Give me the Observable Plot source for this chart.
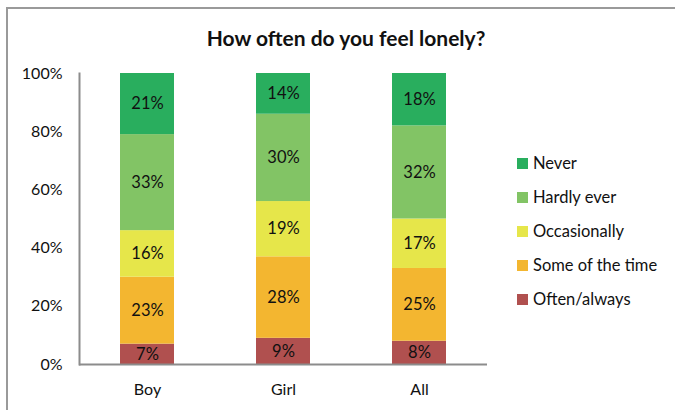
<!DOCTYPE html>
<html>
<head>
<meta charset="utf-8">
<script src="https://cdn.jsdelivr.net/npm/d3@7"></script>
<script src="https://cdn.jsdelivr.net/npm/@observablehq/plot@0.6"></script>
<style>
  html, body { margin: 0; padding: 0; background: #fff; overflow: hidden; }
  #wrap { position: relative; width: 675px; height: 410px; overflow: hidden; font-family: Lato, "Open Sans", sans-serif; color: #111; }
  #btop { position: absolute; left: 6px; top: 7px; width: 669px; height: 2px; background: #9a9a9a; }
  #bleft { position: absolute; left: 6px; top: 7px; width: 2px; height: 403px; background: #9a9a9a; }
  #title { position: absolute; top: 25px; left: 346px; transform: translateX(-50%); font-weight: bold; font-size: 21px; white-space: nowrap; }
  #legend { position: absolute; left: 517px; top: 146px; font-size: 16.5px; }
  .item { display: flex; align-items: center; height: 34px; margin: 0; }
  .sw { width: 11px; height: 11px; margin-right: 5px; }
  svg { position: absolute; left: 0; top: 0; }
</style>
</head>
<body>
<div id="wrap">
  <div id="btop"></div>
  <div id="bleft"></div>
  <div id="title">How often do you feel lonely?</div>
  <div id="legend"></div>
</div>
<script>
const categories = ["Boy", "Girl", "All"];
const levels = ["Often/always", "Some of the time", "Occasionally", "Hardly ever", "Never"];
const colors = ["#b0504f", "#f3b630", "#e6e64a", "#82c465", "#29ae5e"];
const boyValues = [7, 23, 16, 33, 21];
const girlValues = [9, 28, 19, 30, 14];
const allValues = [8, 25, 17, 32, 18];
const yTicks = [0, 20, 40, 60, 80, 100];

const series = { Boy: boyValues, Girl: girlValues, All: allValues };
const data = [];
for (const c of categories) {
  levels.forEach((l, i) => data.push({ cat: c, level: l, value: series[c][i] }));
}

const stackOpts = { x: "cat", y: "value", z: "level", order: levels };

const chart = Plot.plot({
  width: 675,
  height: 410,
  marginLeft: 79,
  marginRight: 188,
  marginTop: 73,
  marginBottom: 46,
  style: { fontFamily: "Lato, 'Open Sans', sans-serif", fontSize: "16px", color: "#111", background: "transparent" },
  x: { domain: categories, paddingInner: 0.6, paddingOuter: 0.3, label: null, tickSize: 0, tickPadding: 19 },
  y: { domain: [0, 100], ticks: yTicks, tickFormat: d => d + "%", label: null, tickSize: 0, tickPadding: 17 },
  color: { domain: levels, range: colors },
  marks: [
    Plot.barY(data, Plot.stackY({ ...stackOpts, fill: "level" })),
    Plot.text(data, Plot.stackY({ ...stackOpts, text: d => d.value + "%", fill: "#111", fontSize: 16.5 })),
    Plot.ruleY([0], { stroke: "#8c8c8c", strokeWidth: 2 }),
    Plot.frame({ anchor: "left", stroke: "#8c8c8c", strokeWidth: 2 })
  ]
});
document.getElementById("wrap").appendChild(chart);

const legend = document.getElementById("legend");
[...levels].reverse().forEach(l => {
  const row = document.createElement("div");
  row.className = "item";
  const sw = document.createElement("div");
  sw.className = "sw";
  sw.style.background = colors[levels.indexOf(l)];
  const t = document.createElement("span");
  t.textContent = l;
  row.appendChild(sw);
  row.appendChild(t);
  legend.appendChild(row);
});
</script>
</body>
</html>
